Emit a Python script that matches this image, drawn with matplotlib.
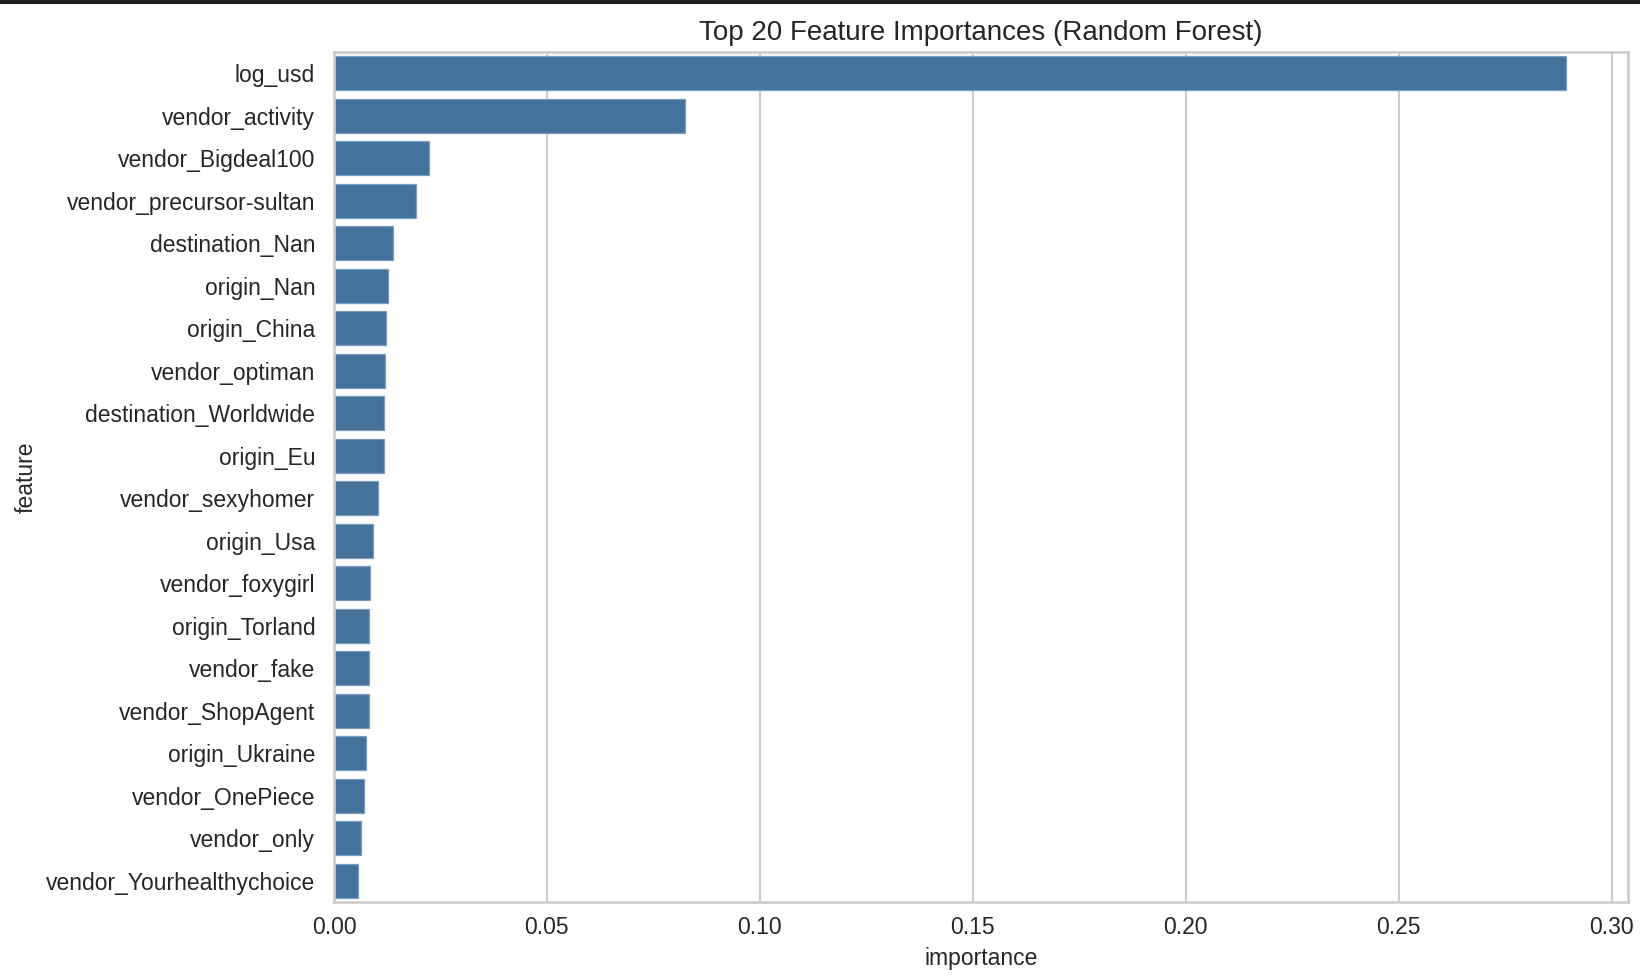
import numpy as np
import pandas as pd
import seaborn as sns
import matplotlib
matplotlib.use("Agg")
import matplotlib.pyplot as plt
from matplotlib.patches import Rectangle

# Feature names and importances
features = [
    "log_usd", "vendor_activity", "vendor_Bigdeal100", "vendor_precursor-sultan",
    "destination_Nan", "origin_Nan", "origin_China", "vendor_optiman",
    "destination_Worldwide", "origin_Eu", "vendor_sexyhomer", "origin_Usa",
    "vendor_foxygirl", "origin_Torland", "vendor_fake", "vendor_ShopAgent",
    "origin_Ukraine", "vendor_OnePiece", "vendor_only", "vendor_Yourhealthychoice",
]
importance = [
    0.2894, 0.0824, 0.0224, 0.0193,
    0.0138, 0.0126, 0.0122, 0.0119,
    0.0118, 0.0118, 0.0103, 0.0091,
    0.0084, 0.0083, 0.0083, 0.0083,
    0.0075, 0.0071, 0.0063, 0.0056,
]

df = pd.DataFrame({"feature": features, "importance": importance})

# Style
sns.set_theme(style="whitegrid", context="notebook")
plt.rcParams["font.family"] = ["Liberation Sans", "DejaVu Sans"]

fig = plt.figure(figsize=(1640 / 150, 980 / 150), dpi=150)
ax = fig.add_axes([334 / 1640, 1 - 902 / 980, (1628 - 334) / 1640, (902 - 52) / 980])

sns.barplot(data=df, x="importance", y="feature", color="#44729c", saturation=1,
            edgecolor="#7b9dc0", linewidth=0.6, ax=ax)
ax.set_title("Top 20 Feature Importances (Random Forest)", fontsize=13.3, pad=6)
ax.set_xlabel("importance", fontsize=11, labelpad=4)
ax.set_ylabel("feature", fontsize=11)
ax.tick_params(axis="x", length=0, pad=6.5)
ax.tick_params(axis="y", length=0, pad=9)

# Dark notebook border strip at the very top of the screenshot
fig.add_artist(Rectangle((0, 1 - 3 / 980), 1, 3 / 980, transform=fig.transFigure,
                         color="#1e1e1e", zorder=10))

fig.savefig("out.png", dpi=150)
